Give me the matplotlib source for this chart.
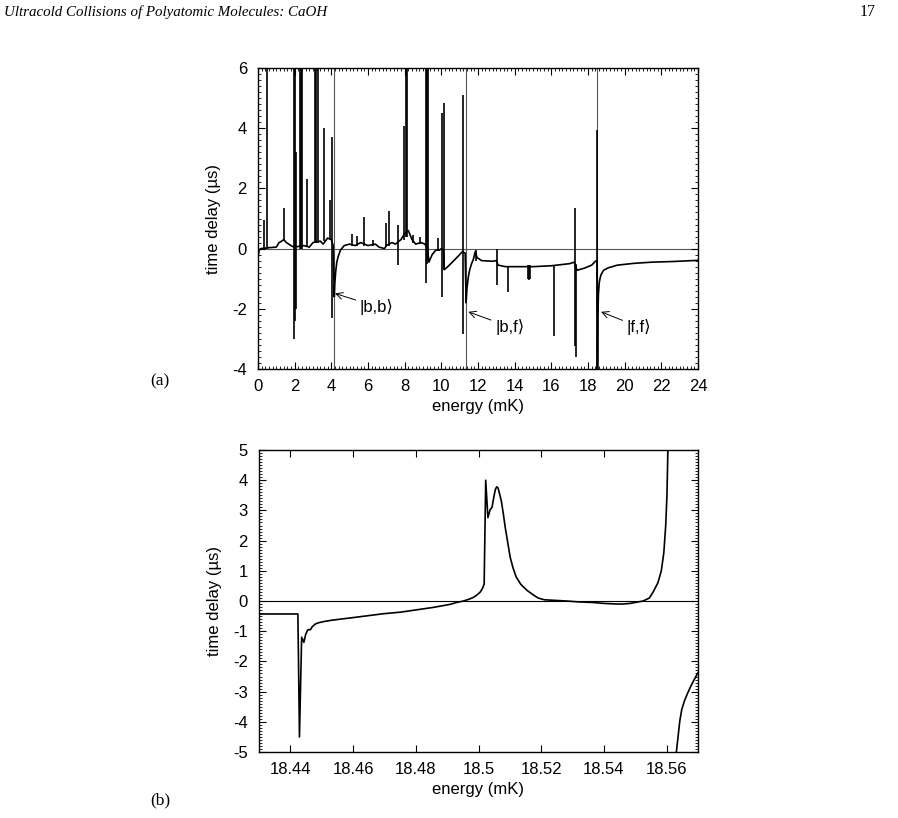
import numpy as np
import matplotlib
matplotlib.use("Agg")
import matplotlib.pyplot as plt
from matplotlib.ticker import AutoMinorLocator, MultipleLocator

plt.rcParams['font.family'] = ['Liberation Sans', 'DejaVu Sans']
plt.rcParams['axes.unicode_minus'] = False

# ---- panel (a): background curve (energy in mK, time delay in us)
base_e = [0.00, 0.06, 0.15, 0.60, 1.00, 1.15, 1.30, 1.40, 1.55, 1.80, 1.95,
          2.50, 2.80, 3.00, 3.40, 3.55, 3.80, 4.00, 4.10,
          4.16, 4.19, 4.24, 4.30, 4.38, 4.50, 4.70, 5.00, 5.30, 5.60, 6.00,
          6.40, 6.60, 6.90, 7.00, 7.30, 7.50, 7.80, 8.00, 8.20, 8.40, 8.60,
          8.90, 9.10, 9.25, 9.32, 9.50, 9.70, 9.90, 10.00, 10.12,
          10.16, 10.35, 10.60, 11.00, 11.15, 11.30,
          11.35, 11.40, 11.47, 11.55, 11.65, 11.75, 11.85, 11.95, 12.20,
          12.80, 13.00, 13.10, 13.50, 14.00, 15.00, 16.00, 17.00, 17.25,
          17.40, 17.80, 18.20, 18.40, 18.50,
          18.52, 18.54, 18.57, 18.62, 18.70, 18.85, 19.10, 19.60, 20.50,
          21.50, 22.60, 24.00]
base_t = [-0.30, -0.05, 0.00, 0.03, 0.05, 0.20, 0.25, 0.30, 0.20, 0.10, 0.05,
          0.10, 0.05, 0.20, 0.25, 0.15, 0.35, 0.30, 0.10,
          -1.60, -1.15, -0.75, -0.45, -0.25, -0.05, 0.10, 0.15, 0.10, 0.20,
          0.10, 0.15, 0.05, 0.00, 0.10, 0.20, 0.15, 0.30, 0.50, 0.60, 0.30,
          0.15, 0.20, 0.15, 0.00, -0.45, -0.20, -0.05, -0.05, 0.00, -0.05,
          -0.70, -0.60, -0.45, -0.20, -0.10, -0.15,
          -1.80, -1.30, -0.95, -0.70, -0.50, -0.35, -0.10, -0.30, -0.40,
          -0.42, -0.40, -0.55, -0.60, -0.60, -0.60, -0.57, -0.50, -0.45,
          -0.72, -0.65, -0.55, -0.42, -0.40,
          -4.50, -2.20, -1.50, -1.10, -0.88, -0.72, -0.64, -0.55, -0.49,
          -0.45, -0.43, -0.39]

# narrow resonances: position, lowest and highest value reached
spike_e = [0.35, 0.47, 1.42, 1.97, 2.02, 2.07, 2.28, 2.35, 2.42, 2.65,
           3.12, 3.18, 3.25, 3.60, 3.95, 4.02,
           5.10, 5.38, 5.78, 6.29, 6.98, 7.14, 7.65, 7.97, 8.05, 8.13,
           8.47, 8.84, 9.17, 9.22, 9.27, 9.80, 10.05, 10.12,
           11.20, 11.90, 13.02, 13.65, 14.72, 14.78, 14.84, 16.15,
           17.28, 17.35, 18.47]
spike_lo = [0.00, 0.00, 0.30, -3.00, -2.40, -2.00, 0.00, 0.00, 0.00, 0.05,
            0.20, 0.20, 0.20, 0.25, 0.30, -2.30,
            0.10, 0.10, 0.10, 0.10, 0.05, 0.10, -0.55, 0.30, 0.40, 0.40,
            0.20, 0.15, -1.15, -0.50, -0.40, -0.05, -1.60, -0.70,
            -2.85, -0.40, -1.20, -1.45, -1.00, -1.05, -1.00, -2.90,
            -3.25, -3.60, -4.50]
spike_hi = [0.95, 7.00, 1.35, 7.00, 7.00, 3.20, 7.00, 7.00, 7.00, 2.30,
            7.00, 7.00, 7.00, 4.00, 1.60, 3.70,
            0.48, 0.42, 1.06, 0.30, 0.85, 1.25, 0.80, 4.07, 7.00, 7.00,
            0.45, 0.40, 7.00, 7.00, 7.00, 0.35, 4.50, 4.85,
            5.10, -0.05, 0.00, -0.60, -0.55, -0.55, -0.55, -0.57,
            1.35, -0.50, 3.95]

thresholds = [4.15, 11.33, 18.50]
channel_labels = ['|b,b\u27e9', '|b,f\u27e9', '|f,f\u27e9']
label_tip = [(4.20, -1.49), (11.47, -2.10), (18.71, -2.10)]
label_text = [(5.55, -1.93), (12.93, -2.60), (20.10, -2.60)]

# ---- panel (b): zoom around the |f,f> threshold
zoom_e = [18.4300, 18.4424, 18.4426, 18.4429, 18.4436, 18.4443, 18.4449,
          18.4456, 18.4464, 18.4470, 18.4480, 18.4490, 18.4507, 18.4530,
          18.4560, 18.4592, 18.4645, 18.4698, 18.4751, 18.4804, 18.4857,
          18.4910, 18.4930, 18.4952, 18.4970, 18.4984, 18.4995, 18.5005,
          18.5012, 18.5018, 18.5023, 18.5030, 18.5037, 18.5043, 18.5050,
          18.5054, 18.5058, 18.5062, 18.5066, 18.5073, 18.5079, 18.5085,
          18.5093, 18.5101, 18.5110, 18.5120, 18.5135, 18.5155, 18.5175,
          18.5190, 18.5210, 18.5281, 18.5320, 18.5366, 18.5400, 18.5440,
          18.5460, 18.5483, 18.5505, 18.5525, 18.5545, 18.5557, 18.5572,
          18.5583, 18.5591, 18.5597, 18.5601, 18.5604, 18.5607]
zoom_t = [-0.43, -0.43, -2.00, -4.50, -1.20, -1.37, -1.10,
          -0.95, -0.95, -0.85, -0.76, -0.72, -0.68, -0.64,
          -0.60, -0.56, -0.49, -0.42, -0.37, -0.29, -0.21,
          -0.11, -0.05, 0.00, 0.06, 0.12, 0.20, 0.29,
          0.40, 0.56, 4.00, 2.76, 3.02, 3.10, 3.50,
          3.70, 3.78, 3.75, 3.60, 3.30, 2.90, 2.45,
          1.95, 1.45, 1.10, 0.80, 0.55, 0.35, 0.20,
          0.10, 0.04, 0.00, -0.03, -0.05, -0.08, -0.10,
          -0.10, -0.08, -0.04, 0.00, 0.10, 0.30, 0.60,
          1.00, 1.60, 2.50, 3.50, 5.00, 6.00]
zoom2_e = [18.5628, 18.5631, 18.5642, 18.5648, 18.5657, 18.5667, 18.5678,
           18.5688, 18.5700]
zoom2_t = [-6.00, -5.00, -3.97, -3.60, -3.30, -3.05, -2.80, -2.60, -2.37]
zoom_xticks = [18.44, 18.46, 18.48, 18.50, 18.52, 18.54, 18.56]
zoom_xlabels = ['18.44', '18.46', '18.48', '18.5', '18.52', '18.54', '18.56']

fig = plt.figure(figsize=(8.98, 8.18), dpi=100)

fig.text(0.004, 0.985, 'Ultracold Collisions of Polyatomic Molecules: CaOH',
         family='Liberation Serif', style='italic', fontsize=10.8, va='center')
fig.text(0.975, 0.985, '17', family='Liberation Serif', fontsize=11.5,
         va='center', ha='right')


def style_axes(ax):
    ax.tick_params(which='both', direction='in', top=True, right=True,
                   labelsize=12)
    ax.tick_params(axis='x', pad=7)
    ax.tick_params(axis='y', pad=8)
    ax.tick_params(which='major', length=5, width=0.8)
    ax.tick_params(which='minor', length=2.5, width=0.6)
    for s in ax.spines.values():
        s.set_linewidth(1.0)


# panel (a)
ax1 = fig.add_axes([258 / 898, 1 - 369 / 818, 440 / 898, 301 / 818])
ax1.axhline(0, color='#555555', lw=0.8, zorder=1)
for th in thresholds:
    ax1.axvline(th, color='#555555', lw=0.8, zorder=1)
ax1.plot(base_e, base_t, color='black', lw=1.2, zorder=3)
ax1.vlines(spike_e, spike_lo, spike_hi, color='black', lw=1.2, zorder=3)
for lab, tip, txt in zip(channel_labels, label_tip, label_text):
    ax1.annotate(lab, xy=tip, xytext=txt, fontsize=12, va='center',
                 ha='left',
                 arrowprops=dict(arrowstyle='->', lw=0.7, color='black',
                                 shrinkA=1, shrinkB=0))
ax1.set_xlim(0, 24)
ax1.set_ylim(-4, 6)
ax1.xaxis.set_major_locator(MultipleLocator(2))
ax1.yaxis.set_major_locator(MultipleLocator(2))
ax1.xaxis.set_minor_locator(AutoMinorLocator(10))
ax1.yaxis.set_minor_locator(AutoMinorLocator(10))
style_axes(ax1)
ax1.set_xlabel('energy (mK)', fontsize=12, labelpad=4)
ax1.set_ylabel('time delay (\u00b5s)', fontsize=12, labelpad=8)
fig.text(150 / 898, 1 - 381 / 818, '(a)', family='Liberation Serif',
         fontsize=12.5, va='center')

# panel (b)
ax2 = fig.add_axes([259 / 898, 1 - 752 / 818, 439 / 898, 302 / 818])
ax2.axhline(0, color='black', lw=0.8, zorder=1)
ax2.plot(zoom_e, zoom_t, color='black', lw=1.2, zorder=3)
ax2.plot(zoom2_e, zoom2_t, color='black', lw=1.2, zorder=3)
ax2.set_xlim(18.43, 18.57)
ax2.set_ylim(-5, 5)
ax2.set_xticks(zoom_xticks)
ax2.set_xticklabels(zoom_xlabels)
ax2.yaxis.set_major_locator(MultipleLocator(1))
ax2.yaxis.set_minor_locator(AutoMinorLocator(10))
style_axes(ax2)
ax2.set_xlabel('energy (mK)', fontsize=12, labelpad=4)
ax2.set_ylabel('time delay (\u00b5s)', fontsize=12, labelpad=8)
fig.text(150 / 898, 1 - 800 / 818, '(b)', family='Liberation Serif',
         fontsize=12.5, va='center')

fig.savefig('out.png', dpi=100)
